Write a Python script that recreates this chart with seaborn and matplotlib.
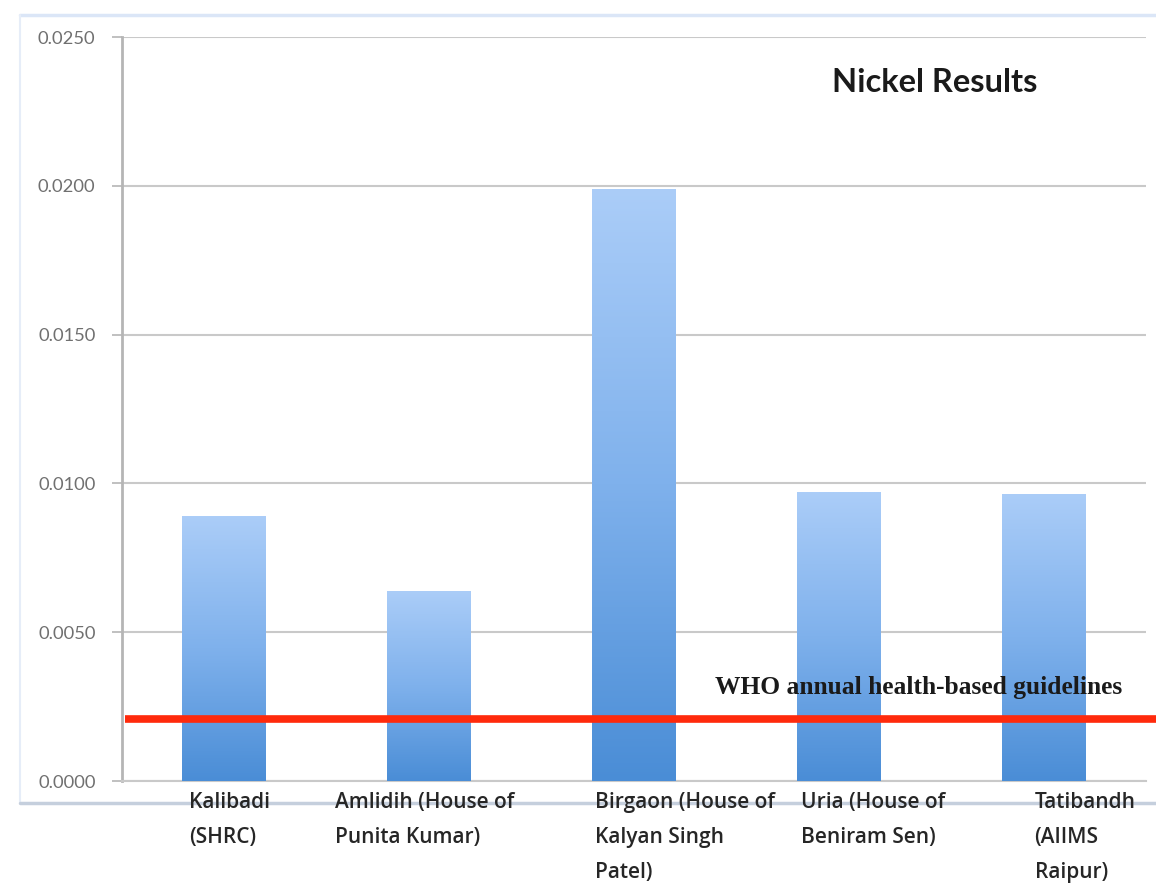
import numpy as np
import pandas as pd
import matplotlib
matplotlib.use("Agg")
import matplotlib.pyplot as plt
import matplotlib.transforms as mtransforms
from matplotlib.lines import Line2D
from matplotlib.colors import LinearSegmentedColormap
import seaborn as sns

# ---- data ----
sites = ["Kalibadi\n(SHRC)", "Amlidih (House of\nPunita Kumar)",
         "Birgaon (House of\nKalyan Singh\nPatel)", "Uria (House of\nBeniram Sen)",
         "Tatibandh\n(AIIMS\nRaipur)"]
nickel = [0.0089, 0.0064, 0.0199, 0.0097, 0.00965]
who_guideline = 0.0021
yticks = [0.0, 0.005, 0.010, 0.015, 0.020, 0.025]
title = "Nickel Results"
who_label = "WHO annual health-based guidelines"

df = pd.DataFrame({"site": sites, "nickel": nickel})

sns.set_theme(style="white")
plt.rcParams["font.family"] = ["Lato", "DejaVu Sans"]

fig = plt.figure(figsize=(11.56, 8.86), dpi=100)
ax = fig.add_axes([0.1055, 0.1185, 0.8858, 0.8397])

sns.barplot(data=df, x="site", y="nickel", ax=ax, width=0.41,
            color="#6aa3e4", saturation=1, zorder=3)

ax.set_xlim(-0.5, 4.5)
ax.set_ylim(0, 0.025)

# gradient fill for each bar
cmap = LinearSegmentedColormap.from_list("g", ["#4a8dd6", "#7fb1ec", "#abcdf8"])
grad = np.linspace(0, 1, 256).reshape(-1, 1)
for p in ax.patches:
    x0, y0 = p.get_x(), p.get_y()
    w, h = p.get_width(), p.get_height()
    p.set_facecolor("none")
    p.set_edgecolor("none")
    im = ax.imshow(grad, extent=[x0, x0 + w, y0, y0 + h], origin="lower",
                   aspect="auto", cmap=cmap, zorder=3)
    im.set_clip_path(p)
ax.set_xlim(-0.5, 4.5)
ax.set_ylim(0, 0.025)

# grid / axes styling
ax.set_yticks(yticks)
ax.set_yticklabels([f"{v:.4f}" for v in yticks])
ax.yaxis.grid(True, color="#c9c9c9", linewidth=1.5, zorder=0)
ax.set_axisbelow(True)
for s in ["top", "right"]:
    ax.spines[s].set_visible(False)
ax.spines["left"].set_color("#b5b5b5")
ax.spines["left"].set_linewidth(2)
ax.spines["bottom"].set_color("#c9c9c9")
ax.spines["bottom"].set_linewidth(1.5)
ax.tick_params(axis="y", which="major", left=True, length=7, width=1.2,
               color="#b5b5b5", labelsize=13.2, labelcolor="#707070", pad=12)
ax.tick_params(axis="x", bottom=False, labelsize=15, labelcolor="#262626", pad=2)
ax.set_xlabel("")
ax.set_ylabel("")

# left edge of each label block relative to its bar centre, in pixels
label_left_px = [-35, -94, -39, -38, -9]
for lab, dx in zip(ax.get_xticklabels(), label_left_px):
    lab.set_horizontalalignment("left")
    lab.set_multialignment("left")
    lab.set_linespacing(1.86)
    lab.set_family(["Open Sans", "DejaVu Sans"])
    lab.set_fontweight("semibold")
    lab.set_transform(lab.get_transform() +
                      mtransforms.ScaledTranslation(dx / 100, 0, fig.dpi_scale_trans))

# WHO guideline line
ax.axhline(who_guideline, xmin=0.003, xmax=1.01, color="#ff2a0c", linewidth=5.5,
           zorder=5, clip_on=False, solid_capstyle="butt")
ax.text(0.778, 0.1255, who_label, transform=ax.transAxes, ha="center", va="center",
        fontsize=18.4, fontweight="bold", family=["Liberation Serif"],
        color="#1a1a1a", zorder=6)

ax.text(0.794, 0.9395, title, transform=ax.transAxes, ha="center", va="center",
        fontsize=23.5, fontweight="bold", color="#1a1a1a")

# outer chart frame (drawn beneath the axes and their labels)
fig.add_artist(Line2D([0.0173, 1.0], [0.9835, 0.9835], color="#dbe6f7",
                      linewidth=2.5, zorder=-1))
fig.add_artist(Line2D([0.0173, 0.0173], [0.9835, 0.0937], color="#e6edf8",
                      linewidth=1.5, zorder=-1))
fig.add_artist(Line2D([0.0173, 1.0], [0.0937, 0.0937], color="#c5cfdd",
                      linewidth=2.5, zorder=-1))

fig.savefig("out.png", dpi=100)
